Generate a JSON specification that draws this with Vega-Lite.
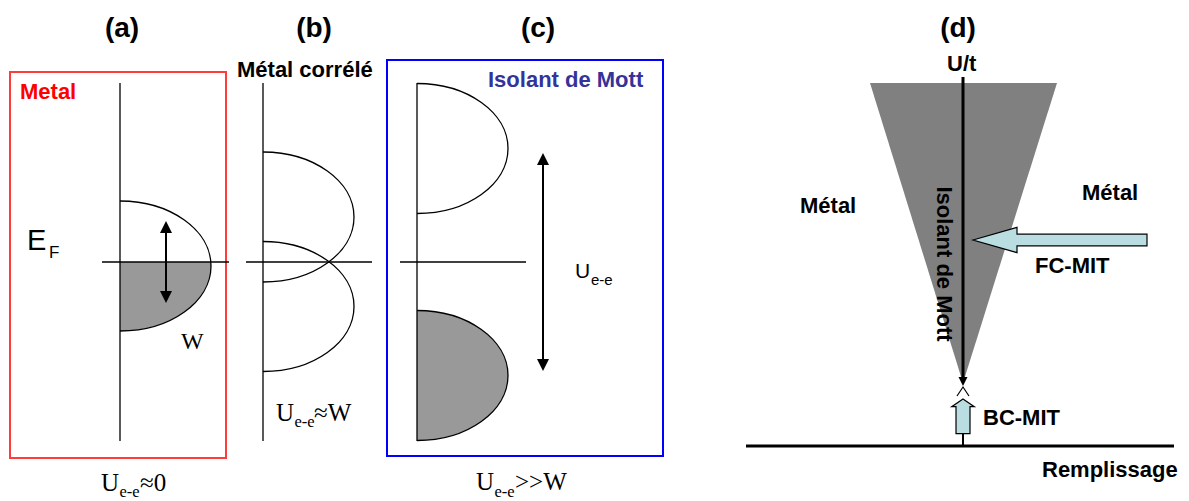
{
  "$schema": "https://vega.github.io/schema/vega-lite/v6.json",
  "width": 1189,
  "height": 501,
  "padding": 0,
  "autosize": "none",
  "background": "white",
  "config": {"view": {"stroke": null}},
  "encoding": {
    "x": {"field": "x", "type": "quantitative", "scale": {"domain": [0, 1189], "nice": false, "zero": false}, "axis": null},
    "y": {"field": "y", "type": "quantitative", "scale": {"domain": [0, 501], "nice": false, "zero": false, "reverse": true}, "axis": null}
  },
  "layer": [
    {
      "data": {"values": [{"x": 10, "x2": 226, "y": 72, "y2": 458}]},
      "mark": {"type": "rect", "fill": "transparent", "stroke": "#ff3b3b", "strokeWidth": 2},
      "encoding": {"x2": {"field": "x2"}, "y2": {"field": "y2"}}
    },
    {
      "data": {"values": [{"x": 387, "x2": 663, "y": 60, "y2": 456}]},
      "mark": {"type": "rect", "fill": "transparent", "stroke": "#0000ff", "strokeWidth": 2},
      "encoding": {"x2": {"field": "x2"}, "y2": {"field": "y2"}}
    },
    {
      "data": {"values": [{"y": 83, "x": 870, "x2": 1057}, {"y": 383, "x": 963, "x2": 963}]},
      "mark": {"type": "area", "orient": "horizontal", "fill": "#808080", "opacity": 1},
      "encoding": {"x2": {"field": "x2"}}
    },
    {
      "data": {"values": [{"x": 120, "y": 266}]},
      "mark": {"type": "point", "shape": "M0,-0.04 L0.909,-0.04 L0.91,0 C0.91,0.359 0.5026,0.65 0,0.65 Z", "size": 40000, "filled": true, "fill": "#999999", "strokeWidth": 0, "opacity": 1}
    },
    {
      "data": {"values": [{"x": 417, "y": 375.5}]},
      "mark": {"type": "point", "shape": "M0,-0.65 C0.5026,-0.65 0.91,-0.359 0.91,0 C0.91,0.359 0.5026,0.65 0,0.65 Z", "size": 40000, "filled": true, "fill": "#999999", "strokeWidth": 0, "opacity": 1}
    },
    {
      "data": {"values": [{"x": 120, "y": 266}, {"x": 263, "y": 217}, {"x": 263, "y": 306.5}, {"x": 417, "y": 148.5}, {"x": 417, "y": 375.5}]},
      "mark": {"type": "point", "shape": "M0,-0.65 C0.5026,-0.65 0.91,-0.359 0.91,0 C0.91,0.359 0.5026,0.65 0,0.65", "size": 40000, "filled": false, "stroke": "black", "strokeWidth": 1.3, "opacity": 1}
    },
    {
      "data": {"values": [
        {"x": 120, "y": 83, "x2": 120, "y2": 441},
        {"x": 263, "y": 83, "x2": 263, "y2": 441},
        {"x": 417, "y": 83, "x2": 417, "y2": 441},
        {"x": 102, "y": 262, "x2": 229, "y2": 262},
        {"x": 246, "y": 262, "x2": 372, "y2": 262},
        {"x": 400, "y": 262, "x2": 526, "y2": 262}
      ]},
      "mark": {"type": "rule", "stroke": "black", "strokeWidth": 1.3},
      "encoding": {"x2": {"field": "x2"}, "y2": {"field": "y2"}}
    },
    {
      "data": {"values": [
        {"x": 166, "y": 228, "x2": 166, "y2": 297},
        {"x": 543, "y": 160, "x2": 543, "y2": 364},
        {"x": 963, "y": 434, "x2": 963, "y2": 445}
      ]},
      "mark": {"type": "rule", "stroke": "black", "strokeWidth": 2},
      "encoding": {"x2": {"field": "x2"}, "y2": {"field": "y2"}}
    },
    {
      "data": {"values": [
        {"x": 963, "y": 77, "x2": 963, "y2": 379},
        {"x": 746, "y": 446, "x2": 1174, "y2": 446}
      ]},
      "mark": {"type": "rule", "stroke": "black", "strokeWidth": 3},
      "encoding": {"x2": {"field": "x2"}, "y2": {"field": "y2"}}
    },
    {
      "data": {"values": [{"x": 166, "y": 221}, {"x": 543, "y": 153}]},
      "mark": {"type": "point", "shape": "M0,0 L-0.5,1 L0.5,1 Z", "size": 576, "filled": true, "fill": "black", "strokeWidth": 0, "opacity": 1}
    },
    {
      "data": {"values": [{"x": 166, "y": 303}, {"x": 543, "y": 371}]},
      "mark": {"type": "point", "shape": "M0,0 L-0.5,-1 L0.5,-1 Z", "size": 576, "filled": true, "fill": "black", "strokeWidth": 0, "opacity": 1}
    },
    {
      "data": {"values": [{"x": 963, "y": 386}]},
      "mark": {"type": "point", "shape": "M0,0 L-0.5,-1 L0.5,-1 Z", "size": 324, "filled": true, "fill": "black", "strokeWidth": 0, "opacity": 1}
    },
    {
      "data": {"values": [{"x": 963, "y": 387}]},
      "mark": {"type": "point", "shape": "M-0.6,0.9 L0,0 L0.6,0.9", "size": 400, "filled": false, "stroke": "black", "strokeWidth": 1.2, "opacity": 1}
    },
    {
      "data": {"values": [{"x": 973, "y": 240}]},
      "mark": {"type": "point", "shape": "M0,0 L0.44,-0.127 L0.44,-0.058 L1.74,-0.058 L1.74,0.058 L0.44,0.058 L0.44,0.127 Z", "size": 40000, "filled": true, "fill": "#b9dde1", "stroke": "black", "strokeWidth": 1.2, "opacity": 1}
    },
    {
      "data": {"values": [{"x": 963, "y": 399}]},
      "mark": {"type": "point", "shape": "M0,0 L0.113,0.077 L0.07,0.077 L0.07,0.347 L-0.07,0.347 L-0.07,0.077 L-0.113,0.077 Z", "size": 40000, "filled": true, "fill": "#b9dde1", "stroke": "black", "strokeWidth": 1.2, "opacity": 1}
    },
    {
      "data": {"values": [{"x": 122, "y": 37, "t": "(a)"}, {"x": 314, "y": 37, "t": "(b)"}, {"x": 538, "y": 37, "t": "(c)"}, {"x": 958, "y": 37, "t": "(d)"}]},
      "mark": {"type": "text", "font": "Liberation Sans", "fontWeight": "bold", "fontSize": 28, "align": "center", "baseline": "alphabetic", "color": "black"},
      "encoding": {"text": {"field": "t"}}
    },
    {
      "data": {"values": [
        {"x": 237, "y": 77, "t": "Métal corrélé"},
        {"x": 947, "y": 71, "t": "U/t"},
        {"x": 800, "y": 213, "t": "Métal"},
        {"x": 1082, "y": 200, "t": "Métal"},
        {"x": 1035, "y": 273, "t": "FC-MIT"},
        {"x": 983, "y": 425, "t": "BC-MIT"},
        {"x": 1042, "y": 477, "t": "Remplissage"}
      ]},
      "mark": {"type": "text", "font": "Liberation Sans", "fontWeight": "bold", "fontSize": 22, "align": "left", "baseline": "alphabetic", "color": "black"},
      "encoding": {"text": {"field": "t"}}
    },
    {
      "data": {"values": [{"x": 20, "y": 99, "t": "Metal"}]},
      "mark": {"type": "text", "font": "Liberation Sans", "fontWeight": "bold", "fontSize": 22, "align": "left", "baseline": "alphabetic", "color": "#ff0000"},
      "encoding": {"text": {"field": "t"}}
    },
    {
      "data": {"values": [{"x": 488, "y": 87, "t": "Isolant de Mott"}]},
      "mark": {"type": "text", "font": "Liberation Sans", "fontWeight": "bold", "fontSize": 22, "align": "left", "baseline": "alphabetic", "color": "#333399"},
      "encoding": {"text": {"field": "t"}}
    },
    {
      "data": {"values": [{"x": 937, "y": 264, "t": "Isolant de Mott"}]},
      "mark": {"type": "text", "font": "Liberation Sans", "fontWeight": "bold", "fontSize": 22, "align": "center", "baseline": "alphabetic", "angle": 90, "color": "black"},
      "encoding": {"text": {"field": "t"}}
    },
    {
      "data": {"values": [{"x": 27, "y": 250, "t": "E"}]},
      "mark": {"type": "text", "font": "Liberation Sans", "fontSize": 29, "align": "left", "baseline": "alphabetic", "color": "black"},
      "encoding": {"text": {"field": "t"}}
    },
    {
      "data": {"values": [{"x": 49, "y": 258, "t": "F"}]},
      "mark": {"type": "text", "font": "Liberation Sans", "fontSize": 17, "align": "left", "baseline": "alphabetic", "color": "black"},
      "encoding": {"text": {"field": "t"}}
    },
    {
      "data": {"values": [{"x": 575, "y": 278, "t": "U"}]},
      "mark": {"type": "text", "font": "Liberation Sans", "fontSize": 21, "align": "left", "baseline": "alphabetic", "color": "black"},
      "encoding": {"text": {"field": "t"}}
    },
    {
      "data": {"values": [{"x": 591, "y": 285, "t": "e-e"}]},
      "mark": {"type": "text", "font": "Liberation Sans", "fontSize": 15, "align": "left", "baseline": "alphabetic", "color": "black"},
      "encoding": {"text": {"field": "t"}}
    },
    {
      "data": {"values": [{"x": 181, "y": 349, "t": "W"}]},
      "mark": {"type": "text", "font": "Liberation Serif", "fontSize": 24, "align": "left", "baseline": "alphabetic", "color": "black"},
      "encoding": {"text": {"field": "t"}}
    },
    {
      "data": {"values": [
        {"x": 101, "y": 491, "t": "U"}, {"x": 140, "y": 491, "t": "≈0"},
        {"x": 276, "y": 421, "t": "U"}, {"x": 314, "y": 421, "t": "≈W"},
        {"x": 476, "y": 490, "t": "U"}, {"x": 515, "y": 490, "t": ">>W"}
      ]},
      "mark": {"type": "text", "font": "Liberation Serif", "fontSize": 25, "align": "left", "baseline": "alphabetic", "color": "black"},
      "encoding": {"text": {"field": "t"}}
    },
    {
      "data": {"values": [{"x": 119.5, "y": 497, "t": "e-e"}, {"x": 294.5, "y": 427, "t": "e-e"}, {"x": 494.5, "y": 497, "t": "e-e"}]},
      "mark": {"type": "text", "font": "Liberation Serif", "fontSize": 16.5, "align": "left", "baseline": "alphabetic", "color": "black"},
      "encoding": {"text": {"field": "t"}}
    }
  ]
}
